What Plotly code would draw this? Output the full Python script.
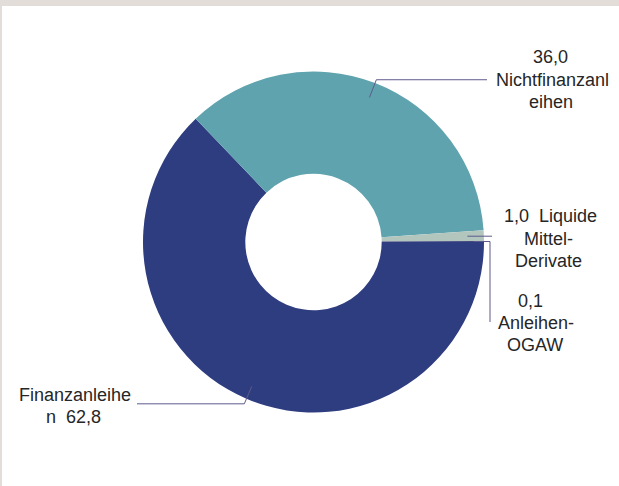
import math
import plotly.graph_objects as go

# ---- data ----
categories = ["Finanzanleihen", "Nichtfinanzanleihen", "Liquide Mittel-Derivate", "Anleihen-OGAW"]
values = [62.8, 36.0, 1.0, 0.1]
value_labels = ["62,8", "36,0", "1,0", "0,1"]
label_lines = [
    ["Finanzanleihe", "n\u00a0 62,8"],
    ["36,0", "Nichtfinanzanl", "eihen"],
    ["1,0\u00a0 Liquide", "Mittel-", "Derivate"],
    ["0,1", "Anleihen-", "OGAW"],
]

# ---- style / layout ----
colors = ["#2E3C80", "#5FA3AF", "#B3C6BE", "#3A3F7A"]
W, H = 619, 486
cx, cy, R = 313.5, 242.0, 170.5
LINE_COLOR = "#5E5B8C"
TEXT_COLOR = "#262626"
FONT = "Liberation Sans, Arial, sans-serif"
FS = 18

def px(x):
    return x / W

def py(y):
    return 1 - y / H

def point(r, ang_deg):
    a = math.radians(ang_deg)
    return cx + r * math.sin(a), cy - r * math.cos(a)

total = sum(values)
mids = []
cum = 0.0
for v in values:
    mids.append(90 + 360 * (cum + v / 2) / total)
    cum += v

fig = go.Figure(go.Pie(
    labels=categories,
    values=values,
    sort=False,
    direction="clockwise",
    rotation=90,
    hole=0.40,
    marker=dict(colors=colors, line=dict(width=0)),
    textinfo="none",
    hoverinfo="label+value",
    showlegend=False,
    domain=dict(x=[px(cx - R), px(cx + R)], y=[py(cy + R), py(cy - R)]),
))

shapes = []

def seg(p0, p1):
    shapes.append(dict(type="line", xref="paper", yref="paper",
                       x0=px(p0[0]), y0=py(p0[1]), x1=px(p1[0]), y1=py(p1[1]),
                       line=dict(color=LINE_COLOR, width=1)))

# Finanzanleihen leader
a0 = point(157, mids[0]); a1 = point(176, mids[0])
seg(a0, a1); seg(a1, (137, a1[1]))
# Nichtfinanzanleihen leader
b0 = point(155, mids[1]); b1 = point(174, mids[1])
seg(b0, b1); seg(b1, (487, b1[1]))
# Liquide leader
c0 = point(154, mids[2])
seg(c0, (492, c0[1]))
# OGAW leader
d0 = point(160, mids[3])
seg(d0, (490, d0[1])); seg((490, d0[1]), (490, 322))

# frame
shapes.append(dict(type="rect", xref="paper", yref="paper", x0=0, x1=1, y0=py(6), y1=1,
                   fillcolor="#E2DDD9", line=dict(width=0)))
shapes.append(dict(type="rect", xref="paper", yref="paper", x0=0, x1=px(2), y0=0, y1=1,
                   fillcolor="#E2DDD9", line=dict(width=0)))

text_pos = [
    [(75, 395), (73, 417)],
    [(550, 57), (552, 80), (551, 102)],
    [(550, 216), (548, 239), (548, 261)],
    [(530, 301), (536, 323), (535, 345)],
]

annotations = []
for lines, poss in zip(label_lines, text_pos):
    for t, (x, y) in zip(lines, poss):
        annotations.append(dict(text=t, x=px(x), y=py(y), xref="paper", yref="paper",
                                xanchor="center", yanchor="middle", showarrow=False,
                                font=dict(family=FONT, size=FS, color=TEXT_COLOR)))

fig.update_layout(
    width=W, height=H,
    margin=dict(l=0, r=0, t=0, b=0),
    paper_bgcolor="white", plot_bgcolor="white",
    shapes=shapes, annotations=annotations,
)

fig.write_html("out.html", config={"displayModeBar": False},
               post_script="document.body.style.margin='0';document.body.style.overflow='hidden';")
